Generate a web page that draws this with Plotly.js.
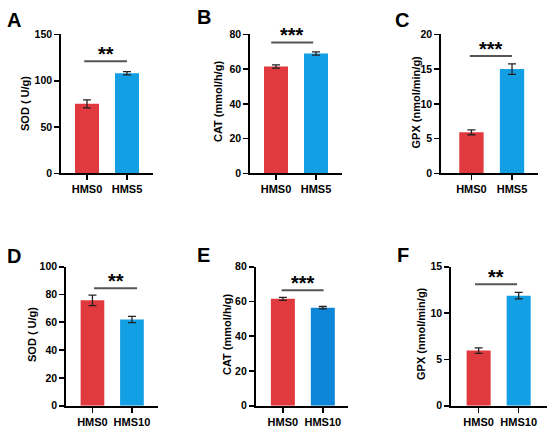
<!DOCTYPE html>
<html>
<head>
<meta charset="utf-8">
<script src="https://cdn.plot.ly/plotly-3.0.1.min.js"></script>
<style>html,body{margin:0;padding:0;background:#fff;}#chart{width:550px;height:432px;}</style>
</head>
<body>
<div id="chart"></div>
<script>
// ---- data ----
var groupsTop = ['HMS0', 'HMS5'];
var groupsBottom = ['HMS0', 'HMS10'];

var sodTop = [75, 108];
var sodTopErr = [4.3, 1.8];
var catTop = [61.5, 69];
var catTopErr = [0.9, 0.9];
var gpxTop = [5.9, 15.0];
var gpxTopErr = [0.35, 0.75];

var sodBottom = [75.8, 62];
var sodBottomErr = [3.8, 2.2];
var catBottom = [61.5, 56.4];
var catBottomErr = [0.9, 0.7];
var gpxBottom = [5.95, 11.87];
var gpxBottomErr = [0.3, 0.35];

var panelLetters = ['A', 'B', 'C', 'D', 'E', 'F'];
var yTitles = ['SOD ( U/g)', 'CAT (mmol/h/g)', 'GPX (nmol/min/g)', 'SOD ( U/g)', 'CAT (mmol/h/g)', 'GPX (nmol/min/g)'];
var sigLabels = ['**', '***', '***', '**', '***', '**'];
var sigLevels = [121, 75.4, 16.9, 84.5, 66.4, 13.1];
var yMax = [150, 80, 20, 100, 80, 15];
var yStep = [50, 20, 5, 20, 20, 5];

// ---- layout helpers (pixel geometry) ----
var W = 550, H = 432;
function px(x) { return x / W; }
function py(y) { return 1 - y / H; }

var panels = [
  {vals: sodTop, err: sodTopErr, cats: groupsTop, colors: ['#e0393e', '#129fe4'],
   ax: [61, 153], ay: [34.4, 173.3], xr: [-0.65, 1.65], sx: [-0.07, 1.0],
   letter: [14, 18.5], ytitle: [25, 104]},
  {vals: catTop, err: catTopErr, cats: groupsTop, colors: ['#e0393e', '#129fe4'],
   ax: [250, 342], ay: [34.4, 173.3], xr: [-0.65, 1.65], sx: [-0.12, 0.93],
   letter: [203.5, 16], ytitle: [218, 102]},
  {vals: gpxTop, err: gpxTopErr, cats: groupsTop, colors: ['#e0393e', '#129fe4'],
   ax: [441, 538], ay: [34.4, 173.3], xr: [-0.75, 1.64], sx: [-0.04, 1.0],
   letter: [402, 19], ytitle: [416, 102.5]},
  {vals: sodBottom, err: sodBottomErr, cats: groupsBottom, colors: ['#e0393e', '#129fe4'],
   ax: [66, 158], ay: [266.7, 405.7], xr: [-0.67, 1.66], sx: [0.04, 1.13],
   letter: [13.5, 254.5], ytitle: [32, 335]},
  {vals: catBottom, err: catBottomErr, cats: groupsBottom, colors: ['#e0393e', '#0d86d9'],
   ax: [255.7, 348], ay: [266.7, 405.7], xr: [-0.68, 1.63], sx: [-0.03, 1.02],
   letter: [203, 253.5], ytitle: [227, 335]},
  {vals: gpxBottom, err: gpxBottomErr, cats: groupsBottom, colors: ['#e0393e', '#129fe4'],
   ax: [451, 546.7], ay: [266.7, 405.7], xr: [-0.69, 1.7], sx: [-0.09, 0.96],
   letter: [402.5, 254], ytitle: [421, 334]}
];

var FONT = 'Liberation Sans, Arial, Helvetica, sans-serif';
var traces = [];
var layout = {
  width: W, height: H,
  margin: {l: 0, r: 0, t: 0, b: 0},
  paper_bgcolor: '#ffffff', plot_bgcolor: 'rgba(0,0,0,0)',
  showlegend: false,
  font: {family: FONT, color: '#000', size: 10},
  annotations: [], shapes: []
};

panels.forEach(function (p, i) {
  var n = i + 1;
  var xa = 'x' + (n === 1 ? '' : n), ya = 'y' + (n === 1 ? '' : n);
  var xk = 'xaxis' + (n === 1 ? '' : n), yk = 'yaxis' + (n === 1 ? '' : n);
  traces.push({
    type: 'bar', x: p.cats, y: p.vals, xaxis: xa, yaxis: ya, width: 0.6,
    marker: {color: p.colors, line: {width: 0}},
    error_y: {type: 'data', array: p.err, visible: true, color: '#222', thickness: 1.3, width: 4},
    hoverinfo: 'none'
  });
  layout[xk] = {
    domain: [px(p.ax[0]), px(p.ax[1])], anchor: ya, type: 'category',
    range: p.xr, showline: true, linecolor: '#000', linewidth: 1.8,
    ticks: 'outside', ticklen: 5, tickwidth: 1.6, tickcolor: '#000',
    showgrid: false, zeroline: false, fixedrange: true,
    tickfont: {family: FONT, size: 11, color: '#000', weight: 'bold'}
  };
  layout[yk] = {
    domain: [py(p.ay[1]), py(p.ay[0])], anchor: xa,
    range: [0, yMax[i]], dtick: yStep[i], tick0: 0,
    showline: true, linecolor: '#000', linewidth: 1.8,
    ticks: 'outside', ticklen: 5, tickwidth: 1.6, tickcolor: '#000',
    showgrid: false, zeroline: false, fixedrange: true,
    tickfont: {family: FONT, size: 10.5, color: '#000', weight: 'bold'}
  };
  // significance line
  layout.shapes.push({
    type: 'line', xref: xa, yref: ya, x0: p.sx[0], x1: p.sx[1],
    y0: sigLevels[i], y1: sigLevels[i], line: {color: '#555', width: 2}
  });
  // stars
  layout.annotations.push({
    xref: xa, yref: ya, x: (p.sx[0] + p.sx[1]) / 2, y: sigLevels[i],
    text: sigLabels[i], showarrow: false, xanchor: 'center', yanchor: 'middle', yshift: 7,
    font: {family: FONT, size: 20, color: '#000', weight: 'bold'}
  });
  // y-axis title
  layout.annotations.push({
    xref: 'paper', yref: 'paper', x: px(p.ytitle[0]), y: py(p.ytitle[1]),
    text: yTitles[i], textangle: -90, showarrow: false, xanchor: 'center', yanchor: 'middle',
    font: {family: FONT, size: 11, color: '#000', weight: 'bold'}
  });
  // panel letter
  layout.annotations.push({
    xref: 'paper', yref: 'paper', x: px(p.letter[0]), y: py(p.letter[1]),
    text: panelLetters[i], showarrow: false, xanchor: 'center', yanchor: 'middle', yshift: -1,
    font: {family: FONT, size: 20, color: '#000', weight: 'bold'}
  });
});

Plotly.newPlot('chart', traces, layout, {displayModeBar: false, staticPlot: true});
</script>
</body>
</html>
